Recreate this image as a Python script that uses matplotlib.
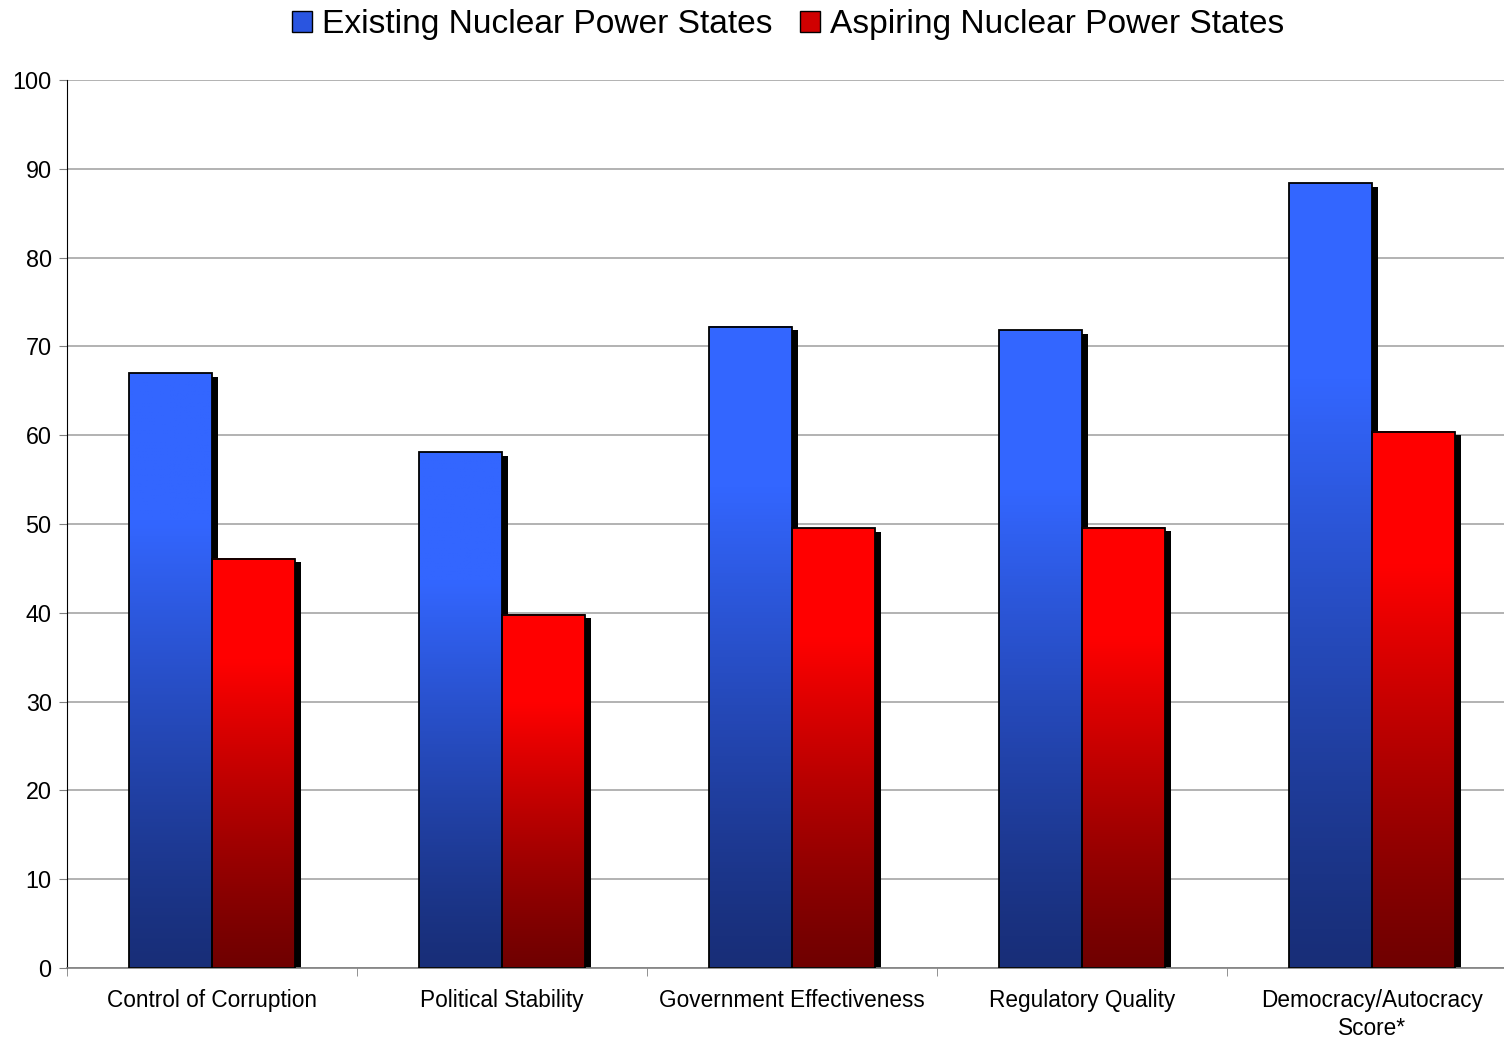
import numpy as np
import matplotlib
matplotlib.use("Agg")
import matplotlib.pyplot as plt
from matplotlib.patches import Rectangle, Patch

# veriler
categories = ["Control of Corruption", "Political Stability", "Government Effectiveness",
              "Regulatory Quality", "Democracy/Autocracy\nScore*"]
existing = [67.0, 58.1, 72.2, 71.8, 88.4]
aspiring = [46.1, 39.8, 49.5, 49.6, 60.4]
series_names = ["Existing Nuclear Power States", "Aspiring Nuclear Power States"]

blue_top, blue_bot = np.array([0x33, 0x66, 0xFF]) / 255, np.array([0x18, 0x2E, 0x78]) / 255
red_top, red_bot = np.array([0xFF, 0x00, 0x00]) / 255, np.array([0x70, 0x00, 0x00]) / 255

plt.rcParams["font.family"] = ["Liberation Sans", "DejaVu Sans"]

fig = plt.figure(figsize=(15.04, 10.37), dpi=100)
ax = fig.add_axes([67 / 1504, 1 - 968 / 1037, 1450 / 1504, 888 / 1037])

w = 0.286


def gradient_bar(xc, h, top, bot):
    # gradyan: üst kısım parlak, alta doğru koyulaşıyor
    t = np.linspace(0, 1, 200)[:, None]
    k = np.clip(t / 0.75, 0, 1) ** 1.2
    img = bot + (top - bot) * k[:, :, None]
    x0 = xc - w / 2
    ax.add_patch(Rectangle((x0 + 0.02, 0), w, h - 0.4, facecolor="black",
                           edgecolor="none", zorder=1.5))
    ax.imshow(img, extent=[x0, x0 + w, 0, h], origin="lower", aspect="auto", zorder=2)
    ax.add_patch(Rectangle((x0, 0), w, h, fill=False, edgecolor="black", lw=1.3, zorder=3))


x = np.arange(len(categories))
for i in range(len(categories)):
    gradient_bar(x[i] - w / 2, existing[i], blue_top, blue_bot)
    gradient_bar(x[i] + w / 2, aspiring[i], red_top, red_bot)

ax.set_xlim(-0.5, len(categories) - 0.5)
ax.set_ylim(0, 100)
ax.set_yticks(np.arange(0, 101, 10))
ax.yaxis.grid(True, color="#A6A6A6", lw=1.2)
ax.set_axisbelow(True)

ax.set_xticks(x)
ax.set_xticklabels(categories, fontsize=16.3, linespacing=1.28)
ax.set_xticks(np.arange(-0.5, len(categories)), minor=True)
ax.tick_params(axis="x", which="major", length=0, pad=15)
ax.tick_params(axis="x", which="minor", length=6, color="#808080")
ax.tick_params(axis="y", labelsize=16.8, length=6, color="#808080", pad=5)

for s in ["top", "right"]:
    ax.spines[s].set_visible(False)
ax.spines["left"].set_color("black")
ax.spines["bottom"].set_color("#808080")
ax.spines["bottom"].set_linewidth(1.2)

handles = [Patch(facecolor="#2A55E0", edgecolor="black", lw=1),
           Patch(facecolor="#D00000", edgecolor="black", lw=1)]
fig.legend(handles, series_names, loc="upper center", bbox_to_anchor=(0.524, 1.02),
           ncol=2, frameon=False, fontsize=24.1, handlelength=0.6, handleheight=0.6,
           handletextpad=0.3, columnspacing=0.8)

fig.savefig("out.png", dpi=100)
